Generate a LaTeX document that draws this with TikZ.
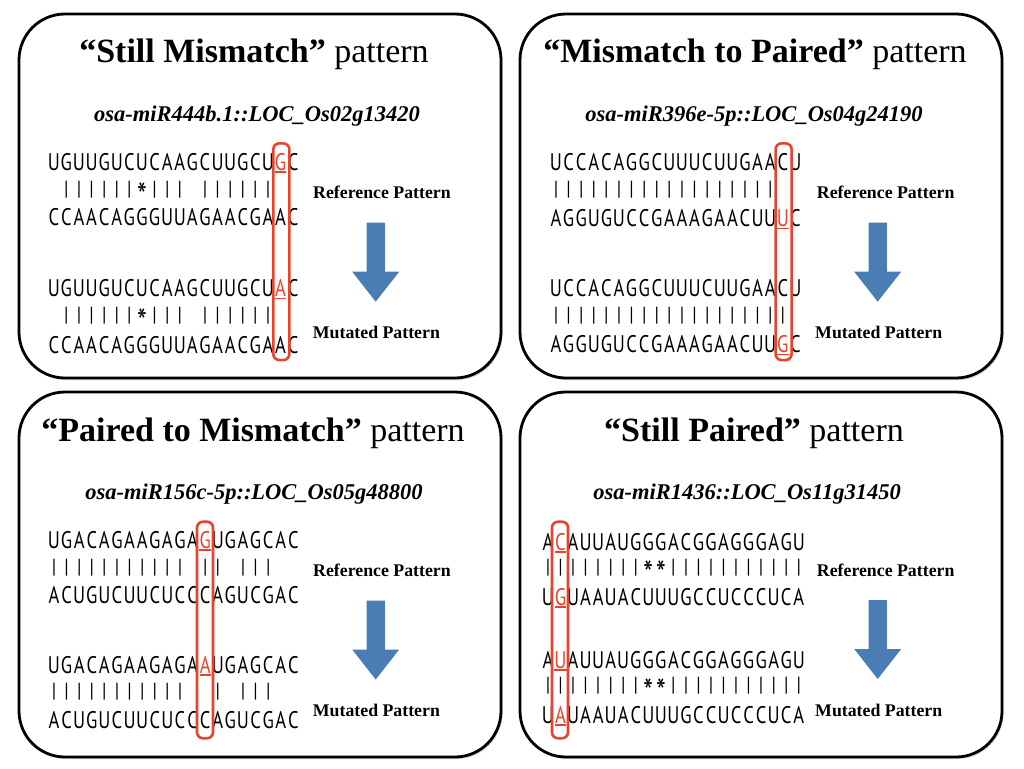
\documentclass[tikz,border=0pt]{standalone}
\usepackage{fontspec}
\usepackage{graphicx}
\setmainfont{Liberation Serif}
\newfontfamily\seqfont[FakeStretch=0.77]{PT Sans}
\usetikzlibrary{shadows}
\definecolor{mred}{RGB}{230,68,45}
\definecolor{mblue}{RGB}{74,125,180}
\newcount\seqcol
\def\seqend{SEQEND}
\def\seqrow#1#2#3#4#5{\def\seqname{#1}\def\seqx{#2}\def\seqp{#3}\def\seqy{#4}\seqcol=0 \seqscan#5\seqend}
\def\seqscan#1{%
  \ifx#1\seqend\else
    \advance\seqcol by 1
    \ifx#1.\else
      \node[seqch] (\seqname-\the\seqcol) at ({\seqx+(\the\seqcol-1)*\seqp},\seqy) {\seqglyph#1};%
    \fi
    \expandafter\seqscan
  \fi}
\def\seqglyph#1{\ifx#1|\scalebox{1}[0.85]{|}\else\ifx#1*\raisebox{-0.55em}{\scalebox{1.5}{*}}\else#1\fi\fi}
\begin{document}
\begin{tikzpicture}[x=1pt,y=-1pt,
  panel/.style={draw=black,line width=2.8,rounded corners=46,fill=white,minimum width=482,inner sep=0,
    drop shadow={shadow xshift=1.5pt,shadow yshift=-2pt,opacity=0.35}},
  ttl/.style={anchor=base,inner sep=0,font=\fontsize{34}{34}\selectfont},
  subt/.style={anchor=base,inner sep=0,font=\fontsize{22.5}{22.5}\selectfont\bfseries\itshape},
  lbl/.style={anchor=base west,inner sep=0,font=\fontsize{17.8}{17.8}\selectfont\bfseries},
  seqch/.style={anchor=base,inner sep=0,font=\seqfont\fontsize{24}{24}\selectfont},
  redch/.style={seqch,text=mred},
  redbox/.style={draw=mred,line width=2.6,rounded corners=6,minimum width=16,inner sep=0},
  uline/.style={draw=mred,line width=1.2},
  barrow/.style={fill=mblue}
]
\useasboundingbox (0,0) rectangle (1024,768);
% panels
\node[panel,minimum height=364] (P1) at (260,196) {};
\node[panel,minimum height=364] (P2) at (761,196) {};
\node[panel,minimum height=365] (P3) at (260,574.5) {};
\node[panel,minimum height=365] (P4) at (761,574.5) {};
% titles
\node[ttl] (t1) at (254,63) {\textbf{“Still Mismatch”} pattern};
\node[subt] (s1) at (257,121) {osa-miR444b.1::LOC\_Os02g13420};
\node[ttl] (t2) at (755,63) {\textbf{“Mismatch to Paired”} pattern};
\node[subt] (s2) at (754,121) {osa-miR396e-5p::LOC\_Os04g24190};
\node[ttl] (t3) at (253,441) {\textbf{“Paired to Mismatch”} pattern};
\node[subt] (s3) at (254,499) {osa-miR156c-5p::LOC\_Os05g48800};
\node[ttl] (t4) at (754,441) {\textbf{“Still Paired”} pattern};
\node[subt] (s4) at (747,499) {osa-miR1436::LOC\_Os11g31450};
% labels
\node[lbl] (ref1) at (313,198) {Reference Pattern};
\node[lbl] (mut1) at (312.7,338) {Mutated Pattern};
\node[lbl] (ref2) at (816.7,198) {Reference Pattern};
\node[lbl] (mut2) at (815,338) {Mutated Pattern};
\node[lbl] (ref3) at (313,576) {Reference Pattern};
\node[lbl] (mut3) at (312.7,716) {Mutated Pattern};
\node[lbl] (ref4) at (816.7,576) {Reference Pattern};
\node[lbl] (mut4) at (815,716) {Mutated Pattern};
% block arrows
\fill[barrow] (366.5,222.7) -- ++(18.4,0) -- ++(0,49) -- ++(14.3,0) -- ++(-23.5,30) -- ++(-23.5,-30) -- ++(14.3,0) -- cycle;
\fill[barrow] (868.5,222.7) -- ++(18.4,0) -- ++(0,49) -- ++(14.3,0) -- ++(-23.5,30) -- ++(-23.5,-30) -- ++(14.3,0) -- cycle;
\fill[barrow] (366.5,600.5) -- ++(18.4,0) -- ++(0,49) -- ++(14.3,0) -- ++(-23.5,30) -- ++(-23.5,-30) -- ++(14.3,0) -- cycle;
\fill[barrow] (868.5,600.0) -- ++(18.4,0) -- ++(0,49) -- ++(14.3,0) -- ++(-23.5,30) -- ++(-23.5,-30) -- ++(14.3,0) -- cycle;
% panel 1 sequences
\seqrow{a1}{53.8}{12.6}{170}{UGUUGUCUCAAGCUUGCU.C}
\seqrow{a2}{53.8}{12.6}{195}{.||||||*|||.||||||..}
\seqrow{a3}{53.8}{12.6}{225.5}{CCAACAGGGUUAGAACGAAC}
\seqrow{a4}{53.8}{12.6}{296.7}{UGUUGUCUCAAGCUUGCU.C}
\seqrow{a5}{53.8}{12.6}{321.5}{.||||||*|||.||||||..}
\seqrow{a6}{53.8}{12.6}{353}{CCAACAGGGUUAGAACGAAC}
\node[redch] (ra1) at (280.6,170) {G};
\node[redch] (ra4) at (280.6,296.7) {A};
% panel 2 sequences
\seqrow{b1}{556}{12.6}{170}{UCCACAGGCUUUCUUGAACU}
\seqrow{b2}{556}{12.6}{195}{||||||||||||||||||..}
\seqrow{b3}{556}{12.6}{226.7}{AGGUGUCCGAAAGAACUU.C}
\seqrow{b4}{556}{12.6}{296.7}{UCCACAGGCUUUCUUGAACU}
\seqrow{b5}{556}{12.6}{321.5}{|||||||||||||||||||.}
\seqrow{b6}{556}{12.6}{352.7}{AGGUGUCCGAAAGAACUU.C}
\node[redch] (rb3) at (782.8,226.7) {U};
\node[redch] (rb6) at (782.8,352.7) {G};
% panel 3 sequences
\seqrow{c1}{54}{12.6}{548}{UGACAGAAGAGA.UGAGCAC}
\seqrow{c2}{54}{12.6}{573}{|||||||||||.||.|||..}
\seqrow{c3}{54}{12.6}{603}{ACUGUCUUCUCCCAGUCGAC}
\seqrow{c4}{54}{12.6}{673}{UGACAGAAGAGA.UGAGCAC}
\seqrow{c5}{54}{12.6}{697}{|||||||||||..|.|||..}
\seqrow{c6}{54}{12.6}{728}{ACUGUCUUCUCCCAGUCGAC}
\node[redch] (rc1) at (205.2,548) {G};
\node[redch] (rc4) at (205.2,673) {A};
% panel 4 sequences
\seqrow{d1}{548}{12.54}{550}{A.AUUAUGGGACGGAGGGAGU}
\seqrow{d2}{548}{12.54}{573}{||||||||**|||||||||||}
\seqrow{d3}{548}{12.54}{605}{U.UAAUACUUUGCCUCCCUCA}
\seqrow{d4}{548}{12.54}{668}{A.AUUAUGGGACGGAGGGAGU}
\seqrow{d5}{548}{12.54}{691.5}{||||||||**|||||||||||}
\seqrow{d6}{548}{12.54}{723}{U.UAAUACUUUGCCUCCCUCA}
\node[redch] (rd1) at (560.5,550) {C};
\node[redch] (rd3) at (560.5,605) {G};
\node[redch] (rd4) at (560.5,668) {U};
\node[redch] (rd6) at (560.5,723) {A};
% underlines
\foreach \n in {ra1,ra4,rb3,rb6,rc1,rc4,rd1,rd3,rd4,rd6}
  \draw[uline] ([yshift=-2pt]\n.base west) -- ([yshift=-2pt]\n.base east);
% red column boxes
\node[redbox,minimum height=216.7] (bx1) at (281.3,251.7) {};
\node[redbox,minimum height=216.7] (bx2) at (783.6,251.7) {};
\node[redbox,minimum height=216.6] (bx3) at (205,630) {};
\node[redbox,minimum height=216.6] (bx4) at (560,630) {};
\end{tikzpicture}
\end{document}
